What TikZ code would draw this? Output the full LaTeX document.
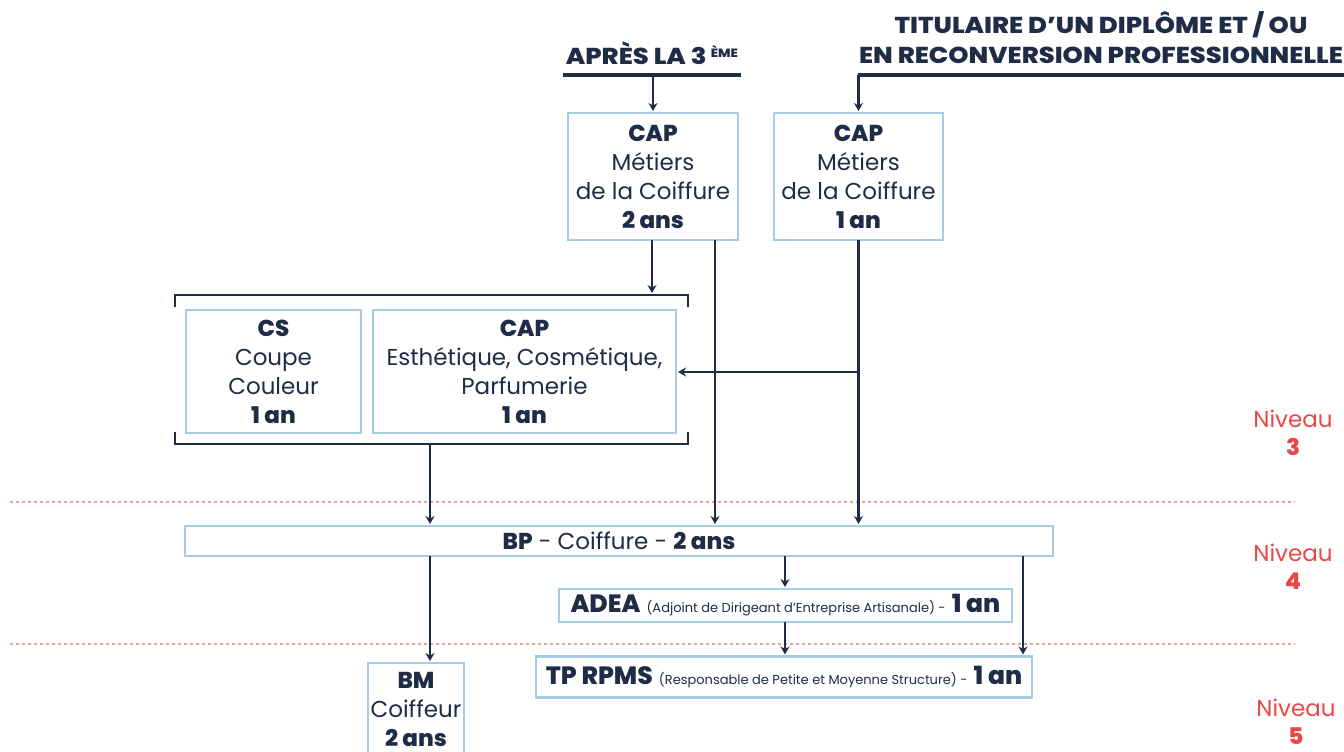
\documentclass[tikz,border=0pt]{standalone}
\usepackage{fontspec}
\setmainfont{Poppins}[BoldFont={Poppins ExtraBold}]
\usetikzlibrary{arrows.meta,calc}
\definecolor{navy}{RGB}{31,44,70}
\definecolor{boxblue}{RGB}{167,205,224}
\definecolor{nivred}{RGB}{233,72,72}
\definecolor{dotline}{RGB}{244,160,140}
\tikzset{
  x=1pt,y=-1pt,
  every node/.style={inner sep=0pt,outer sep=0pt,text=navy},
  fbox/.style={draw=boxblue,line width=2.6pt,align=center,font=\fontsize{23}{29}\selectfont},
  boxtext/.style={align=center,font=\fontsize{23}{29}\selectfont},
  arr/.style={draw=navy,line width=2.4pt,-{Stealth[length=8pt,width=9pt]},shorten >=2pt},
  plainline/.style={draw=navy,line width=2.4pt},
  headline/.style={draw=navy,line width=3.4pt},
  head/.style={font=\bfseries\fontsize{23}{30}\selectfont,align=center},
  niv/.style={text=nivred,align=center,font=\fontsize{23}{28}\selectfont},
  levelsep/.style={draw=dotline,line width=2.6pt,dash pattern=on 2.6pt off 3.4pt}
}
\newcommand{\smalltxt}[1]{{\fontsize{13}{15}\selectfont #1}}
\newcommand{\hsc}[1]{\scalebox{1.12}[1]{#1}}
\begin{document}
\begin{tikzpicture}
\useasboundingbox (0,0) rectangle (1344,752);
% headings
\node[head] (h1) at (652,53) {\hsc{APRÈS LA 3\,\raisebox{0.55ex}{\fontsize{12}{12}\selectfont ÈME}}};
\node[head] (h2) at (1101,38) {\hsc{TITULAIRE D’UN DIPLÔME ET / OU}\\\hsc{EN RECONVERSION PROFESSIONNELLE}};
\coordinate (h1L) at (563,75);
\coordinate (h1R) at (741,75);
\coordinate (h2L) at (858,75);
\coordinate (h2R) at (1344,75);
\draw[headline] (h1L) -- (h1R);
\draw[headline] (h2L) -- (h2R);
% boxes
\node[fbox,minimum width=170,minimum height=127] (cap2) at (653,176.5) {\textbf{CAP}\\Métiers\\de la Coiffure\\\textbf{2 ans}};
\node[fbox,minimum width=169,minimum height=127] (cap1) at (858.5,176.5) {\textbf{CAP}\\Métiers\\de la Coiffure\\\textbf{1 an}};
\node[fbox,minimum width=175,minimum height=123] (cs) at (273.5,371.5) {\textbf{CS}\\Coupe\\Couleur\\\textbf{1 an}};
\node[fbox,minimum width=303,minimum height=123] (cape) at (524.5,371.5) {\textbf{CAP}\\Esthétique, Cosmétique,\\Parfumerie\\\textbf{1 an}};
\node[fbox,minimum width=868,minimum height=30] (bp) at (619,541) {\textbf{BP} - Coiffure - \textbf{2 ans}};
\node[fbox,minimum width=453,minimum height=33] (adea) at (785.5,605.5) {{\fontsize{25}{29}\selectfont\textbf{ADEA}} \smalltxt{(Adjoint de Dirigeant d'Entreprise Artisanale) -} {\fontsize{25}{29}\selectfont\textbf{1 an}}};
\node[fbox,minimum width=496,minimum height=41] (tp) at (784,677) {{\fontsize{25}{29}\selectfont\textbf{TP RPMS}} \smalltxt{(Responsable de Petite et Moyenne Structure) -} {\fontsize{25}{29}\selectfont\textbf{1 an}}};
\node[fbox,minimum width=96,minimum height=104,anchor=north] (bm) at (416,663) {};
\node[boxtext] (bmtext) at (416,709.5) {\textbf{BM}\\Coiffeur\\\textbf{2 ans}};
% bracket group
\coordinate (brTL) at (175,295);
\coordinate (brTR) at (688,295);
\coordinate (brBL) at (175,444);
\coordinate (brBR) at (688,444);
\draw[plainline] ($(brTL)+(0,12)$) -- (brTL) -- (brTR) -- ($(brTR)+(0,12)$);
\draw[plainline] ($(brBL)+(0,-12)$) -- (brBL) -- (brBR) -- ($(brBR)+(0,-12)$);
% level separators
\coordinate (s1L) at (10,502); \coordinate (s1R) at (1295,502);
\coordinate (s2L) at (10,644); \coordinate (s2R) at (1295,644);
\draw[levelsep] (s1L) -- (s1R);
\draw[levelsep] (s2L) -- (s2R);
% niveau labels
\node[niv] (n3) at (1293,433) {Niveau\\\textbf{3}};
\node[niv] (n4) at (1293,567) {Niveau\\\textbf{4}};
\node[niv] (n5) at (1296,722) {Niveau\\\textbf{5}};
% connectors
\draw[arr] (cap2.north |- h1L) -- (cap2.north);
\draw[arr] (cap1.north |- h2L) -- (cap1.north);
\draw[arr] ([xshift=-1]cap2.south) -- ([xshift=-1]cap2.south |- brTL);
\coordinate (c2b) at (715,240);
\draw[arr] (c2b) -- (c2b |- bp.north);
\draw[arr] (cap1.south) -- (cap1.south |- bp.north);
\coordinate (jn) at (858.5,372);
\draw[arr] (jn) -- (cape.east |- jn);
\coordinate (brO) at (430,444);
\draw[arr] (brO) -- (brO |- bp.north);
\coordinate (bpA) at (785,556);
\draw[arr] (bpA) -- (bpA |- adea.north);
\draw[arr] (bpA |- adea.south) -- (bpA |- tp.north);
\coordinate (bpT) at (1023,556);
\draw[arr] (bpT) -- (bpT |- tp.north);
\coordinate (bpM) at (430,556);
\draw[arr] (bpM) -- (bpM |- bm.north);
\end{tikzpicture}
\end{document}
